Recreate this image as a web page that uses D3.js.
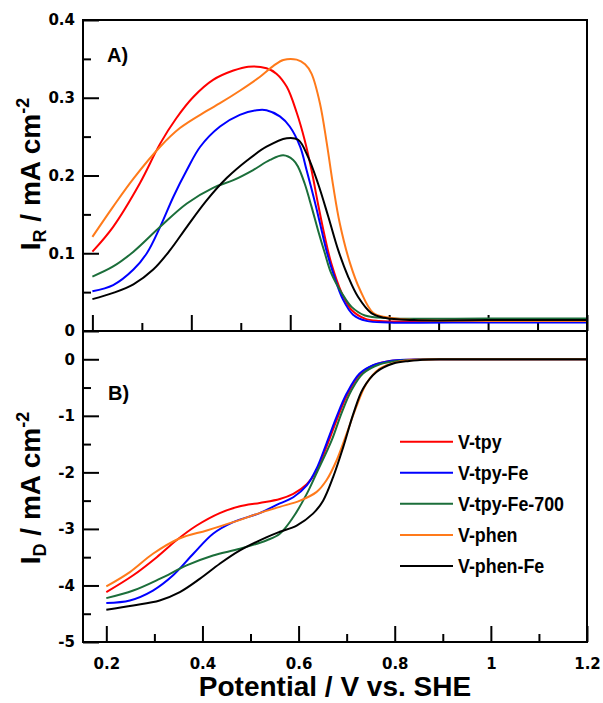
<!DOCTYPE html>
<html>
<head>
<meta charset="utf-8">
<script src="https://cdn.jsdelivr.net/npm/d3@7"></script>
<style>
  body { margin: 0; background: #fff; }
</style>
</head>
<body>
<div id="chart"></div>
<script>
// Two stacked RRDE panels: A) ring current, B) disk current vs potential.

// series names and colours (legend order)
const names  = ["V-tpy", "V-tpy-Fe", "V-tpy-Fe-700", "V-phen", "V-phen-Fe"];
const colors = ["#ff0000", "#0000ff", "#1b6e3a", "#ff7a1a", "#000000"];

// A) ring current I_R (mA cm-2), [E (V vs SHE), I]
const ringTpy = [[0.2,0.102],[0.242,0.134],[0.296,0.19],[0.337,0.241],[0.37,0.274],[0.404,0.301],
  [0.444,0.323],[0.485,0.335],[0.515,0.340],[0.552,0.338],[0.572,0.331],[0.593,0.314],[0.613,0.281],
  [0.629,0.246],[0.643,0.207],[0.656,0.164],[0.670,0.121],[0.683,0.087],[0.704,0.049],[0.724,0.027],
  [0.751,0.016],[0.78,0.013],[0.85,0.012],[1.0,0.012],[1.2,0.012]];
const ringTpyFe = [[0.2,0.051],[0.242,0.059],[0.283,0.079],[0.31,0.10],[0.337,0.134],[0.364,0.173],
  [0.391,0.207],[0.418,0.237],[0.458,0.263],[0.498,0.278],[0.532,0.284],[0.552,0.284],[0.579,0.276],
  [0.599,0.263],[0.62,0.237],[0.633,0.207],[0.647,0.173],[0.66,0.139],[0.673,0.104],[0.687,0.074],
  [0.707,0.040],[0.727,0.021],[0.754,0.013],[0.8,0.011],[1.0,0.011],[1.2,0.011]];
const ringTpyFe700 = [[0.2,0.070],[0.242,0.083],[0.283,0.102],[0.337,0.134],[0.391,0.164],[0.444,0.184],
  [0.485,0.194],[0.525,0.207],[0.559,0.22],[0.586,0.226],[0.606,0.22],[0.616,0.211],[0.629,0.19],
  [0.643,0.16],[0.656,0.13],[0.67,0.10],[0.683,0.074],[0.704,0.049],[0.724,0.031],[0.751,0.020],
  [0.8,0.0165],[1.0,0.016],[1.2,0.016]];
const ringPhen = [[0.2,0.121],[0.242,0.16],[0.283,0.196],[0.337,0.237],[0.377,0.261],[0.431,0.283],
  [0.458,0.293],[0.498,0.309],[0.539,0.327],[0.566,0.341],[0.586,0.3486],[0.613,0.349],[0.63,0.343],
  [0.643,0.331],[0.66,0.293],[0.674,0.241],[0.687,0.186],[0.70,0.139],[0.721,0.087],[0.741,0.053],
  [0.768,0.023],[0.795,0.0176],[0.85,0.014],[1.0,0.013],[1.2,0.013]];
const ringPhenFe = [[0.2,0.041],[0.242,0.049],[0.283,0.060],[0.323,0.079],[0.357,0.104],[0.391,0.134],
  [0.431,0.168],[0.472,0.197],[0.512,0.219],[0.552,0.237],[0.593,0.248],[0.616,0.246],[0.636,0.224],
  [0.656,0.19],[0.677,0.147],[0.697,0.104],[0.717,0.070],[0.737,0.044],[0.764,0.023],[0.79,0.017],
  [0.85,0.014],[1.0,0.014],[1.2,0.014]];

// B) disk current I_D (mA cm-2), [E (V vs SHE), I]
const diskTpy = [[0.2,-4.118],[0.256,-3.82],[0.305,-3.50],[0.346,-3.20],[0.388,-2.94],[0.436,-2.72],
  [0.478,-2.60],[0.519,-2.54],[0.561,-2.47],[0.589,-2.38],[0.617,-2.21],[0.637,-1.98],[0.658,-1.55],
  [0.679,-1.08],[0.70,-0.65],[0.727,-0.27],[0.755,-0.11],[0.79,-0.03],[0.83,-0.008],[0.9,0],[1.2,0]];
const diskTpyFe = [[0.2,-4.31],[0.249,-4.265],[0.297,-4.09],[0.339,-3.82],[0.381,-3.44],[0.422,-3.085],
  [0.464,-2.88],[0.519,-2.72],[0.561,-2.55],[0.589,-2.44],[0.617,-2.23],[0.637,-1.94],[0.658,-1.49],
  [0.679,-1.02],[0.70,-0.607],[0.727,-0.253],[0.755,-0.106],[0.79,-0.03],[0.83,-0.008],[0.9,0],[1.2,0]];
const diskTpyFe700 = [[0.2,-4.224],[0.256,-4.09],[0.312,-3.88],[0.367,-3.646],[0.422,-3.47],[0.478,-3.35],
  [0.534,-3.20],[0.561,-3.085],[0.589,-2.79],[0.617,-2.38],[0.637,-2.02],[0.669,-1.43],[0.689,-0.96],
  [0.71,-0.549],[0.734,-0.253],[0.769,-0.088],[0.81,-0.025],[0.85,-0.005],[0.9,0],[1.2,0]];
const diskPhen = [[0.2,-4.018],[0.249,-3.764],[0.297,-3.44],[0.352,-3.17],[0.409,-3.027],[0.464,-2.88],
  [0.519,-2.72],[0.561,-2.61],[0.603,-2.50],[0.637,-2.35],[0.658,-2.14],[0.679,-1.79],[0.70,-1.315],
  [0.72,-0.844],[0.741,-0.43],[0.769,-0.165],[0.804,-0.05],[0.85,-0.01],[0.9,0],[1.2,0]];
const diskPhenFe = [[0.2,-4.43],[0.256,-4.354],[0.311,-4.265],[0.353,-4.118],[0.395,-3.88],[0.436,-3.616],
  [0.478,-3.38],[0.534,-3.145],[0.561,-3.05],[0.596,-2.94],[0.630,-2.73],[0.651,-2.50],[0.672,-2.08],
  [0.693,-1.55],[0.714,-0.96],[0.734,-0.52],[0.762,-0.224],[0.797,-0.076],[0.83,-0.03],[0.87,-0.005],
  [0.9,0],[1.2,0]];

const ringSeries = [ringTpy, ringTpyFe, ringTpyFe700, ringPhen, ringPhenFe];
const diskSeries = [diskTpy, diskTpyFe, diskTpyFe700, diskPhen, diskPhenFe];

// ticks
const xMajor = [0.2, 0.4, 0.6, 0.8, 1, 1.2];
const xMinor = [0.3, 0.5, 0.7, 0.9, 1.1];
const yTopMajor = [0, 0.1, 0.2, 0.3, 0.4];
const yTopMinor = [0.05, 0.15, 0.25, 0.35];
const yBotMajor = [0, -1, -2, -3, -4, -5];
const yBotMinor = [-0.5, -1.5, -2.5, -3.5, -4.5];

// layout
const W = 603, H = 703;
const left = 83, right = 587;
const topA = 20, midY = 331, botB = 642;

const svg = d3.select("#chart").append("svg")
  .attr("width", W).attr("height", H)
  .style("font-family", "'Liberation Sans', Arial, sans-serif");

// scales (panel A axis is stretched slightly differently from B in the original)
const xA = d3.scaleLinear().domain([0.181, 1.2]).range([left, right]);
const xB = d3.scaleLinear().domain([0.1515, 1.2]).range([left, right]);
const yA = d3.scaleLinear().domain([0, 0.4]).range([midY, topA]);
const yB = d3.scaleLinear().domain([-5, 0.5]).range([botB, midY]);

function styleAxis(g) {
  g.select(".domain").remove();
  g.selectAll("line").attr("stroke", "#000").attr("stroke-width", 2);
  g.selectAll("text")
    .attr("font-family", "'DejaVu Sans', Verdana, sans-serif")
    .attr("font-weight", "bold")
    .attr("font-size", 15)
    .attr("fill", "#000");
}

// panel A axes
svg.append("g").attr("transform", `translate(${left},0)`)
  .call(d3.axisLeft(yA).tickValues(yTopMajor).tickSize(-16).tickPadding(8)
    .tickFormat(d => d === 0 ? "0" : d3.format(".1f")(d)))
  .call(styleAxis);
svg.append("g").attr("transform", `translate(${left},0)`)
  .call(d3.axisLeft(yA).tickValues(yTopMinor).tickSize(-8).tickFormat(""))
  .call(styleAxis);
svg.append("g").attr("transform", `translate(0,${midY})`)
  .call(d3.axisBottom(xA).tickValues(xMajor).tickSize(-16).tickFormat(""))
  .call(styleAxis);
svg.append("g").attr("transform", `translate(0,${midY})`)
  .call(d3.axisBottom(xA).tickValues(xMinor).tickSize(-8).tickFormat(""))
  .call(styleAxis);

// panel B axes
svg.append("g").attr("transform", `translate(${left},0)`)
  .call(d3.axisLeft(yB).tickValues(yBotMajor).tickSize(-16).tickPadding(8).tickFormat(d => String(d)))
  .call(styleAxis);
svg.append("g").attr("transform", `translate(${left},0)`)
  .call(d3.axisLeft(yB).tickValues(yBotMinor).tickSize(-8).tickFormat(""))
  .call(styleAxis);
svg.append("g").attr("transform", `translate(0,${botB})`)
  .call(d3.axisBottom(xB).tickValues(xMajor).tickSize(-16).tickPadding(16).tickFormat(d => String(d)))
  .call(styleAxis);
svg.append("g").attr("transform", `translate(0,${botB})`)
  .call(d3.axisBottom(xB).tickValues(xMinor).tickSize(-8).tickFormat(""))
  .call(styleAxis);

// curves
const lineA = d3.line().x(d => xA(d[0])).y(d => yA(d[1])).curve(d3.curveCatmullRom.alpha(0.5));
const lineB = d3.line().x(d => xB(d[0])).y(d => yB(d[1])).curve(d3.curveCatmullRom.alpha(0.5));

svg.append("g").selectAll("path")
  .data(ringSeries)
  .join("path")
    .attr("d", lineA)
    .attr("fill", "none")
    .attr("stroke", (d, i) => colors[i])
    .attr("stroke-width", 2);

svg.append("g").selectAll("path")
  .data(diskSeries)
  .join("path")
    .attr("d", lineB)
    .attr("fill", "none")
    .attr("stroke", (d, i) => colors[i])
    .attr("stroke-width", 2);

// frames
svg.append("rect")
  .attr("x", left).attr("y", topA)
  .attr("width", right - left).attr("height", midY - topA)
  .attr("fill", "none").attr("stroke", "#000").attr("stroke-width", 2);
svg.append("rect")
  .attr("x", left).attr("y", midY)
  .attr("width", right - left).attr("height", botB - midY)
  .attr("fill", "none").attr("stroke", "#000").attr("stroke-width", 2);

// panel labels
svg.append("text").attr("x", 107).attr("y", 62)
  .attr("font-size", 20).attr("font-weight", "bold").text("A)");
svg.append("text").attr("x", 108).attr("y", 400)
  .attr("font-size", 20).attr("font-weight", "bold").text("B)");

// axis titles
svg.append("text")
  .attr("x", (left + right) / 2).attr("y", 696)
  .attr("text-anchor", "middle")
  .attr("font-size", 28).attr("font-weight", "bold")
  .text("Potential / V vs. SHE");

function yTitle(cy, sub) {
  const t = svg.append("text")
    .attr("transform", `translate(40,${cy}) rotate(-90)`)
    .attr("text-anchor", "middle")
    .attr("font-size", 28).attr("font-weight", "bold");
  t.append("tspan").text("I");
  t.append("tspan").attr("font-size", 18).attr("dy", 6).text(sub);
  t.append("tspan").attr("dy", -6).text(" / mA cm");
  t.append("tspan").attr("font-size", 18).attr("dy", -11).text("-2");
}
yTitle(174, "R");
yTitle(488, "D");

// legend
const leg = svg.append("g");
const rowY = d3.scalePoint().domain(names).range([441.7, 566]);
names.forEach((n, i) => {
  const y = rowY(n);
  leg.append("line")
    .attr("x1", 400).attr("x2", 453).attr("y1", y).attr("y2", y)
    .attr("stroke", colors[i]).attr("stroke-width", 2);
  leg.append("text")
    .attr("transform", `translate(458,${y + 7}) scale(0.85,1)`)
    .attr("font-size", 21).attr("font-weight", "bold")
    .text(n);
});
</script>
</body>
</html>
